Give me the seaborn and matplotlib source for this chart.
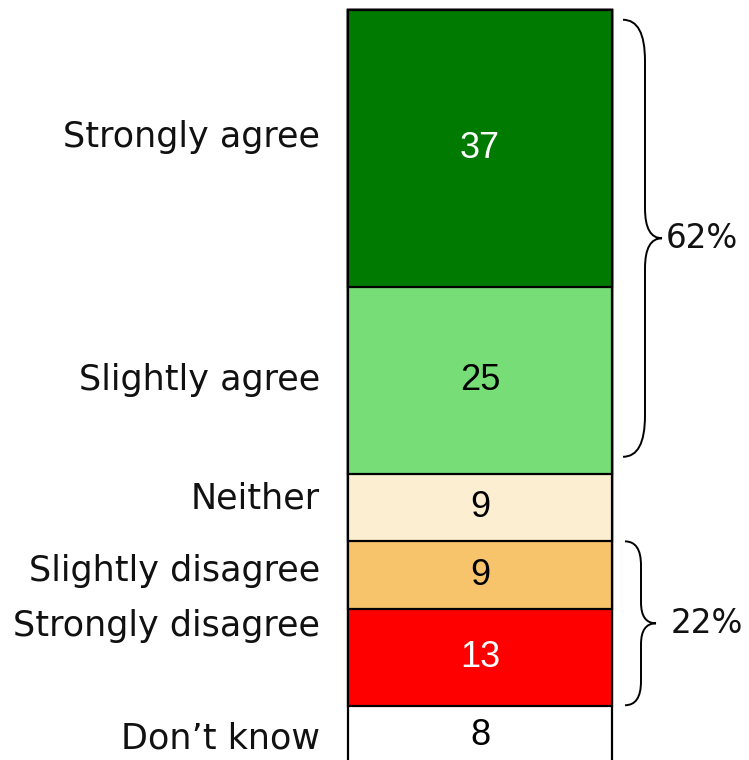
import numpy as np
import pandas as pd
import matplotlib
matplotlib.use("Agg")
import matplotlib.pyplot as plt
import seaborn as sns
from matplotlib.path import Path
from matplotlib.patches import PathPatch

# ---- data ----
categories = ["Strongly agree", "Slightly agree", "Neither",
              "Slightly disagree", "Strongly disagree", "Don\u2019t know"]
values = [37, 25, 9, 9, 13, 8]
colors = ["#007A00", "#77DD77", "#FCEFD1", "#F7C46C", "#FF0000", "#FFFFFF"]
value_colors = ["white", "black", "black", "black", "white", "black"]
net_labels = ["62%", "22%"]
net_spans = [(0, 1), (3, 4)]  # first / last category index covered by each brace

# ---- layout helpers (pixel -> data) ----
PX_PER_UNIT = 7.484
BAR_TOP_PX = 10
BAR_CENTER_PX = 480
X_PX_PER_UNIT = 330.0
W, H = 749, 760


def xd(px):
    return (px - BAR_CENTER_PX) / X_PX_PER_UNIT


def yd(py):
    return (py - BAR_TOP_PX) / PX_PER_UNIT


sns.set_theme(style="white")
plt.rcParams["font.family"] = ["DejaVu Sans"]

cum = np.cumsum(values)
df = pd.DataFrame({"group": ["all"] * len(categories),
                   "response": categories, "cum": cum})

fig = plt.figure(figsize=(W / 100, H / 100), dpi=100)
ax = fig.add_axes([0, 0, 1, 1])
sns.barplot(data=df, x="group", y="cum", hue="response",
            hue_order=categories[::-1],
            palette=dict(zip(categories, colors)),
            dodge=False, width=0.8, saturation=1,
            edgecolor="black", linewidth=1.6,
            legend=False, errorbar=None, ax=ax)

ax.set_xlim(xd(0), xd(W))
ax.set_ylim(yd(H), yd(0))
ax.axis("off")

# values and category labels
label_offsets = [-1.5, 0.0, -1.2, -0.5, -4.2, 0.3]
starts = cum - np.array(values)
for i, (cat, v) in enumerate(zip(categories, values)):
    mid = starts[i] + v / 2
    ax.text(0, mid, str(v), ha="center", va="center", fontsize=26,
            color=value_colors[i], family="Liberation Sans")
    ax.text(xd(320), mid + label_offsets[i], cat, ha="right", va="center",
            fontsize=25.2, color="#111111")


def brace(x0, x1, x2, ytop, ybot, r_end, r_mid):
    ymid = (ytop + ybot) / 2
    verts = [
        (x0, ytop), (x1, ytop), (x1, ytop + r_end),
        (x1, ymid - r_mid), (x1, ymid), (x2, ymid),
        (x1, ymid), (x1, ymid + r_mid),
        (x1, ybot - r_end), (x1, ybot), (x0, ybot),
    ]
    codes = [Path.MOVETO, Path.CURVE3, Path.CURVE3,
             Path.LINETO, Path.CURVE3, Path.CURVE3,
             Path.CURVE3, Path.CURVE3,
             Path.LINETO, Path.CURVE3, Path.CURVE3]
    ax.add_patch(PathPatch(Path(verts, codes), fill=False,
                           edgecolor="black", linewidth=1.4))
    return ymid


brace_geom = [  # x0, x1, x2 (px), top/bottom inset (units), r_end, r_mid (units), text x px
    (623, 645, 662, 1.3, 2.3, 5.5, 4.0, 666),
    (625, 641, 656, 0.0, 0.1, 3.2, 2.8, 671),
]
for (i0, i1), lab, g in zip(net_spans, net_labels, brace_geom):
    x0, x1, x2, in_t, in_b, re, rm, tx = g
    ytop = starts[i0] + in_t
    ybot = cum[i1] - in_b
    ym = brace(xd(x0), xd(x1), xd(x2), ytop, ybot, re, rm)
    ax.text(xd(tx), ym, lab, ha="left", va="center", fontsize=23.5,
            color="#111111")

fig.savefig("out.png", dpi=100)
